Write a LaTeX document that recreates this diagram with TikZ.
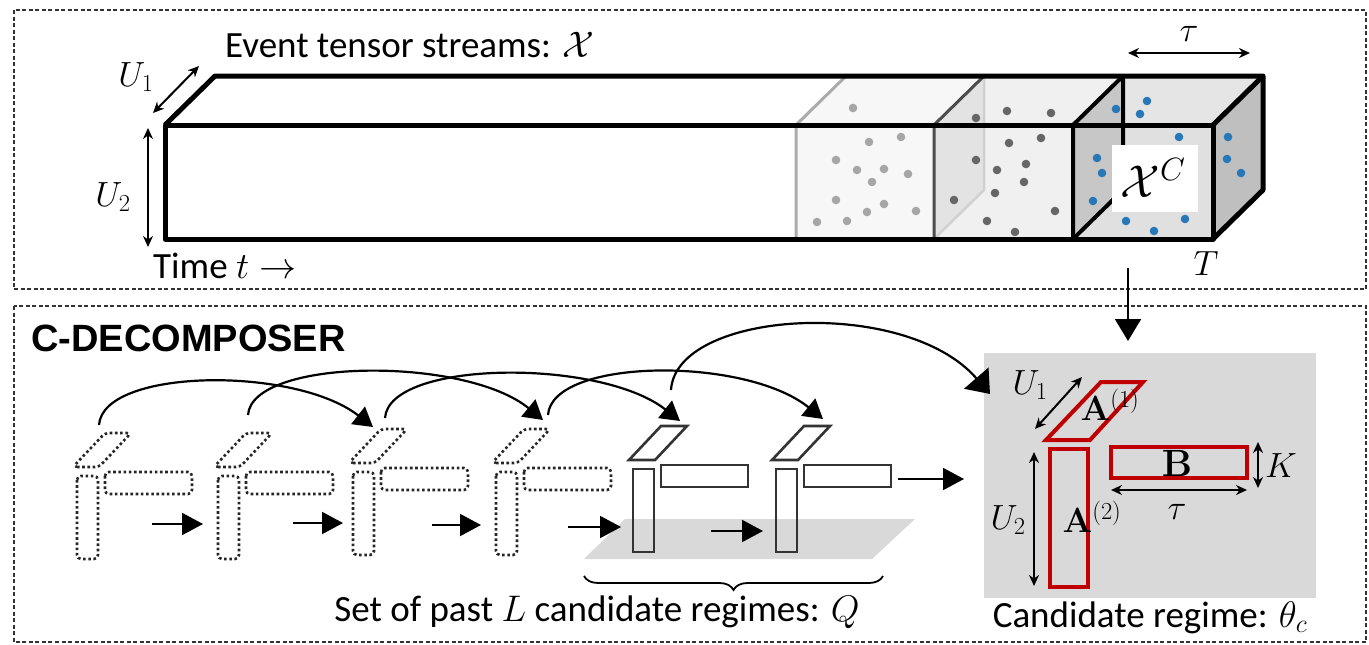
\RequirePackage{fix-cm}
\documentclass[tikz,border=0pt]{standalone}
\usepackage[no-math]{fontspec}
\setmainfont{Carlito}
\newfontfamily\hfont{Liberation Sans}
\usetikzlibrary{arrows.meta,decorations.pathreplacing}
\definecolor{redA}{HTML}{C00000}
\definecolor{dotblue}{HTML}{2878B8}
\definecolor{panelgray}{HTML}{D9D9D9}
\begin{document}
\begin{tikzpicture}[x=1pt,y=-1pt,
  frame/.style={draw=black!80, line width=1.3pt, dash pattern=on 4pt off 2.5pt},
  lbl/.style={inner sep=0pt, font=\fontsize{37}{44}\selectfont},
  mlbl/.style={inner sep=0pt, font=\fontsize{35}{40}\selectfont},
  dimarrow/.style={line width=2pt, {Stealth[length=11pt,width=10pt]}-{Stealth[length=11pt,width=10pt]}},
  flow/.style={line width=2pt, -{Triangle[length=21pt,width=22pt]}},
  arc/.style={line width=2.2pt, -{Triangle[length=19pt,width=22pt]}},
  dotted icon/.style={draw=black!85, line width=2.6pt, dash pattern=on 2.6pt off 2.6pt, rounded corners=4pt},
  solid icon/.style={draw=black!80, line width=2.6pt},
  redbox/.style={draw=redA, line width=4pt},
  gdot/.style={fill=black!35},
  ddot/.style={fill=black!60},
  bdot/.style={fill=dotblue},
  regime/.pic={
    \draw[pic actions] (0,0) -- (26,0) -- (58,-34) -- (32,-34) -- cycle;
    \draw[pic actions] (4,9) rectangle (25,92);
    \draw[pic actions] (32,5) rectangle (119,27);
  }
]
\useasboundingbox (0,0) rectangle (1369,645);

% frames
\draw[frame] (14,10) rectangle (1366,289);
\draw[frame] (14,306) rectangle (1366,642);

% ---------- tensor stream bar ----------
\fill[white] (165,125) -- (215,76) -- (1263,76) -- (1263,190) -- (1213,239) -- (165,239) -- cycle;
% segment 1
\fill[black!3] (796,239) -- (796,125) -- (846,76) -- (984,76) -- (934,125) -- (934,239) -- cycle;
% segment 2
\fill[black!6] (934,239) -- (934,125) -- (984,76) -- (1123,76) -- (1073,125) -- (1073,239) -- cycle;
\fill[black!11] (934,125) -- (984,76) -- (984,190) -- (934,239) -- cycle;
% segment 3
\fill[black!10] (1073,125) -- (1123,76) -- (1263,76) -- (1213,125) -- cycle;
\fill[black!12] (1073,125) rectangle (1213,239);
\fill[black!22] (1073,125) -- (1123,76) -- (1123,190) -- (1073,239) -- cycle;
\fill[black!25] (1213,125) -- (1263,76) -- (1263,190) -- (1213,239) -- cycle;
% segment edges
\draw[black!33, line width=3pt] (796,239) -- (796,125) -- (846,76);
\draw[black!18, line width=2.5pt] (984,76) -- (984,190) -- (934,239);
\draw[black!70, line width=3pt] (934,239) -- (934,125) -- (984,76);
\draw[black, line width=4pt, line join=round] (1123,76) -- (1123,190) -- (1073,239);
\draw[black, line width=4pt, line join=round] (1073,239) -- (1073,125) -- (1123,76);

% dots segment 1
\foreach \p in {(853,108),(869,142),(901,137),(836,160),(857,170),(884,169),(908,174),(872,182),(836,200),(884,204),(867,212),(916,211),(817,222),(847,221)}
  \fill[gdot] \p circle (4.3pt);
% dots segment 2
\foreach \p in {(976,118),(1007,111),(1051,113),(1009,143),(1041,138),(976,160),(997,170),(1026,164),(1024,182),(995,193),(954,200),(987,221),(1015,232),(1055,211)}
  \fill[ddot] \p circle (4.3pt);
% dots segment 3
\foreach \p in {(1147,101),(1116,109),(1140,114),(1179,137),(1228,137),(1097,158),(1227,159),(1102,173),(1241,173),(1093,201),(1126,221),(1185,219),(1154,231)}
  \fill[bdot] \p circle (4.3pt);

% outline
\draw[line width=5pt, line join=round] (165,125) rectangle (1213,239);
\draw[line width=5pt, line join=round] (165,125) -- (215,76) -- (1263,76) -- (1263,190) -- (1213,239);
\draw[line width=5pt, line join=round] (1213,125) -- (1263,76);

% X^C label
\node[fill=white, minimum width=86pt, minimum height=67pt, inner sep=0pt] (xc) at (1155,178.5) {};
\node[inner sep=0pt, font=\fontsize{46}{52}\selectfont] (xct) at (1153,178) {$\mathcal{X}^{C}$};

% dimension arrows (top)
\coordinate (u1a) at (153,113); \coordinate (u1b) at (199,66);
\draw[dimarrow] (u1a) -- (u1b);
\node[mlbl] (u1) at (136,77) {$U_1$};
\coordinate (u2a) at (148,128); \coordinate (u2b) at (148,247);
\draw[dimarrow] (u2a) -- (u2b);
\node[mlbl] (u2) at (113,197) {$U_2$};
\coordinate (ta) at (1128,53); \coordinate (tb) at (1250,53);
\draw[dimarrow] (ta) -- (tb);
\node[mlbl] (tau) at (1189,34) {$\tau$};
\node[mlbl] (T) at (1206,264) {$T$};

\node[lbl, anchor=base west] (ets) at (225,57) {Event tensor streams: $\mathcal{X}$};
\node[lbl, anchor=base west] (time) at (153,278) {Time $t\rightarrow$};

% down arrow
\coordinate (da) at (1128,268); \coordinate (db) at (1128,341);
\draw[line width=2pt, -{Triangle[length=22pt,width=26pt]}] (da) -- (db);

% ---------- C-DECOMPOSER ----------
\node[inner sep=0pt, anchor=base west, font=\hfont\bfseries\fontsize{38}{44}\selectfont] (cdec) at (31,351) {C-DECOMPOSER};

% panel
\node[fill=panelgray, minimum width=332pt, minimum height=245pt, inner sep=0pt] (panel) at (1150,475.5) {};

% plane
\fill[panelgray] (584,559) -- (872,559) -- (915,519) -- (625,519) -- cycle;

% icons
\pic[dotted icon] (r1) at (73,467) {regime};
\pic[dotted icon] (r2) at (214,467) {regime};
\pic[dotted icon] (r3) at (349,463) {regime};
\pic[dotted icon] (r4) at (492,463) {regime};
\pic[solid icon] (r5) at (629,460) {regime};
\pic[solid icon] (r6) at (772,460) {regime};

% flow arrows
\coordinate (f1a) at (152,524); \coordinate (f1b) at (203,524);
\coordinate (f2a) at (293,523); \coordinate (f2b) at (343,523);
\coordinate (f3a) at (432,525); \coordinate (f3b) at (481,525);
\coordinate (f4a) at (568,527); \coordinate (f4b) at (621,527);
\coordinate (f5a) at (711,531); \coordinate (f5b) at (763,531);
\coordinate (f6a) at (898,479); \coordinate (f6b) at (964,479);
\draw[flow] (f1a) -- (f1b);
\draw[flow] (f2a) -- (f2b);
\draw[flow] (f3a) -- (f3b);
\draw[flow] (f4a) -- (f4b);
\draw[flow] (f5a) -- (f5b);
\draw[flow] (f6a) -- (f6b);

% arcs
\coordinate (a1s) at (99,425);  \coordinate (a1e) at (373,427);
\coordinate (a2s) at (248,415); \coordinate (a2e) at (543,420);
\coordinate (a3s) at (385,418); \coordinate (a3e) at (680,421);
\coordinate (a4s) at (548,415); \coordinate (a4e) at (823,419);
\coordinate (a5s) at (671,390); \coordinate (a5e) at (990,394);
\draw[arc] (a1s) .. controls (103,368) and (295,366) .. (a1e);
\draw[arc] (a2s) .. controls (252,358) and (465,356) .. (a2e);
\draw[arc] (a3s) .. controls (389,360) and (600,358) .. (a3e);
\draw[arc] (a4s) .. controls (552,358) and (745,356) .. (a4e);
\draw[line width=2.2pt, -{Triangle[length=21pt,width=32pt]}] (a5s) .. controls (676,310) and (905,296) .. (a5e);

% brace
\coordinate (bra) at (883,576); \coordinate (brb) at (584,576);
\draw[line width=1.8pt, decorate, decoration={brace, amplitude=14pt}] (bra) -- (brb);
\node[lbl, anchor=base] (setq) at (597,621) {Set of past $L$ candidate regimes: $Q$};

% candidate regime
\draw[redbox] (1046,440) -- (1090,440) -- (1143,382) -- (1101,382) -- cycle;
\draw[redbox] (1050,449) rectangle (1088,587);
\draw[redbox] (1111,447) rectangle (1247,478);
\node[mlbl] (a1) at (1110,405) {$\mathbf{A}^{(1)}$};
\node[mlbl] (a2) at (1092,517) {$\mathbf{A}^{(2)}$};
\node[inner sep=0pt, font=\fontsize{38}{42}\selectfont] (bb) at (1177,463) {$\mathbf{B}$};
\coordinate (pu1a) at (1035,429); \coordinate (pu1b) at (1082,377);
\draw[dimarrow] (pu1a) -- (pu1b);
\node[mlbl] (pu1) at (1030,385) {$U_1$};
\coordinate (pu2a) at (1034,452); \coordinate (pu2b) at (1034,586);
\draw[dimarrow] (pu2a) -- (pu2b);
\node[mlbl] (pu2) at (1008,520) {$U_2$};
\coordinate (ka) at (1258,442); \coordinate (kb) at (1258,488);
\draw[dimarrow] (ka) -- (kb);
\node[mlbl] (K) at (1281,466) {$K$};
\coordinate (pta) at (1111,490); \coordinate (ptb) at (1247,490);
\draw[dimarrow] (pta) -- (ptb);
\node[mlbl] (ptau) at (1177,512) {$\tau$};
\node[lbl, anchor=base] (cand) at (1150,627) {Candidate regime: $\theta_c$};
\end{tikzpicture}
\end{document}
